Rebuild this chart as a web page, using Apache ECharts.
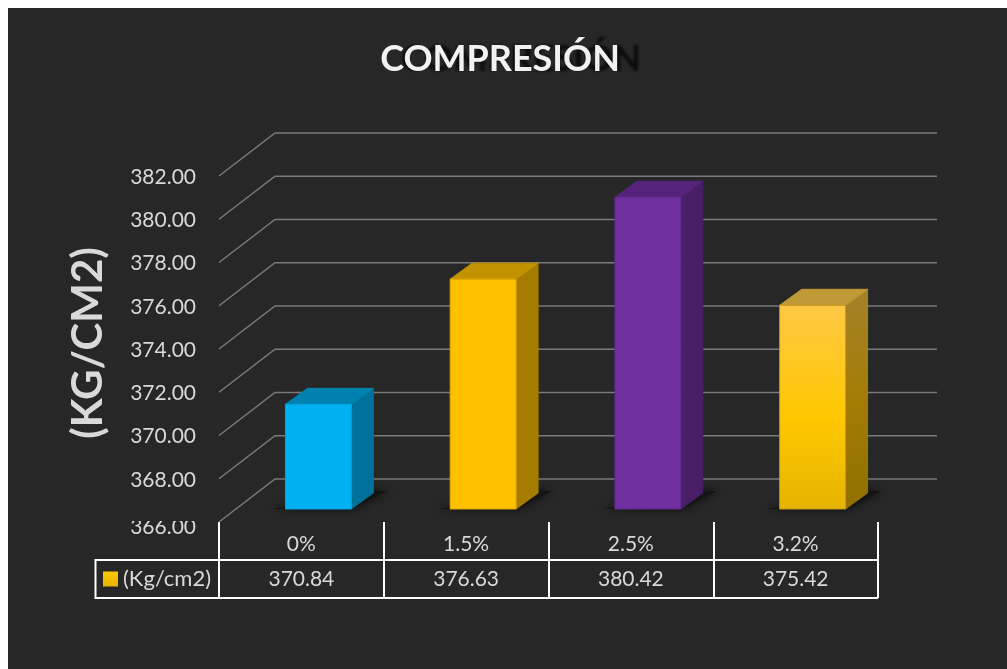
<!DOCTYPE html>
<html><head><meta charset="utf-8">
<style>html,body{margin:0;padding:0;background:#fff}#c{width:1007px;height:669px}</style>
<script src="https://cdn.jsdelivr.net/npm/echarts@6/dist/echarts.min.js"></script>
</head><body><div id="c"></div>
<script>
const categories = ['0%', '1.5%', '2.5%', '3.2%'];
const values = [370.84, 376.63, 380.42, 375.42];
const yTicks = [366, 368, 370, 372, 374, 376, 378, 380, 382];
const seriesName = '(Kg/cm2)';
const titleText = 'COMPRESIÓN';
const yTitle = '(KG/CM2)';

const FONT = 'Lato';
const BG = '#272727';
const TXT = '#d9d9d9';
const WALL = [56, -43];
const BAR_OFF = [17, -13];
const BAR_DEPTH = [22, -16];
const grad = (stops, x2 = 0, y2 = 1) => ({type: 'linear', x: 0, y: 0, x2, y2,
  colorStops: stops.map(([offset, color]) => ({offset, color}))});
const faces = [
  {front: '#00B0F0', side: '#00719B', top: '#0082B0', edge: '#00A3DE'},
  {front: '#FFC000', side: '#A57C00', top: '#C29200', edge: '#E0A900'},
  {front: '#7030A0', side: '#481F67', top: '#55247A', edge: '#632A8E'},
  {front: grad([[0, '#FFC845'], [0.55, '#FFC800'], [1, '#E6B400']]),
   side: grad([[0, '#A5822A'], [0.5, '#A37C05'], [1, '#8F7000']]),
   top: '#C09A36', edge: '#C49A20'}
];

function renderWall(params, api) {
  const v = api.value(0);
  const y = api.coord([0, v])[1];
  const x0 = params.coordSys.x;
  const xb = x0 + WALL[0];
  return {type: 'polyline', silent: true,
    shape: {points: [[x0, y], [xb, y + WALL[1]], [xb + params.coordSys.width + 3, y + WALL[1]]]},
    style: {fill: null, stroke: '#7a7a7a', lineWidth: 1.5}};
}
function renderBar(params, api) {
  const i = api.value(0), f = faces[i];
  const base = api.coord([i, yTicks[0]]), top = api.coord([i, api.value(1)]);
  const w = api.size([1, 0])[0] * 0.4;
  const x = base[0] - w / 2 + BAR_OFF[0], xr = x + w;
  const yb = base[1] + BAR_OFF[1], yt = top[1] + BAR_OFF[1];
  const [dx, dy] = BAR_DEPTH;
  const poly = (points, fill, stroke) => ({type: 'polygon', shape: {points},
    style: {fill, stroke: stroke || fill, lineWidth: 1}});
  const shadow = {type: 'polygon',
    shape: {points: [[x - 12, yb], [xr, yb], [xr + dx + 14, yb + dy - 2], [xr + dx - 8, yb + dy - 2]]},
    style: {fill: '#141414', shadowBlur: 8, shadowColor: '#0a0a0a'}};
  return {type: 'group', children: [
    shadow,
    poly([[xr, yb], [xr + dx, yb + dy], [xr + dx, yt + dy], [xr, yt]], f.side),
    poly([[x, yt], [x + dx, yt + dy], [xr + dx, yt + dy], [xr, yt]], f.top),
    poly([[x, yt], [xr, yt], [xr, yb], [x, yb]], f.front, f.edge)
  ]};
}
const tableLine = (x1, y1, x2, y2) => ({type: 'line', z: 50, silent: true,
  shape: {x1, y1, x2, y2}, style: {stroke: '#fff', lineWidth: 2}});

const chart = echarts.init(document.getElementById('c'), null, {renderer: 'canvas'});
chart.setOption({
  animation: false,
  backgroundColor: '#fff',
  textStyle: {fontFamily: FONT},
  title: {text: titleText, left: 495, textAlign: 'center', top: 36,
    textStyle: {fontFamily: FONT, fontSize: 36, fontWeight: 'bold', color: '#f2f2f2',
      textShadowColor: 'rgba(0,0,0,0.75)', textShadowBlur: 3, textShadowOffsetX: 21, textShadowOffsetY: 0}},
  legend: {left: 103, top: 568, padding: 0, itemWidth: 15, itemHeight: 15, itemGap: 4,
    data: [{name: seriesName, icon: 'rect', itemStyle: {color: grad([[0, '#FFC800'], [1, '#E6B400']])}}],
    textStyle: {color: TXT, fontSize: 22, fontFamily: FONT}},
  grid: {left: 219, right: 129, top: 176, bottom: 147, containLabel: false},
  xAxis: {type: 'category', data: categories, boundaryGap: true,
    axisLine: {show: false},
    axisTick: {show: true, length: 76, lineStyle: {color: '#fff', width: 2}},
    axisLabel: {margin: 5, interval: 0, color: TXT, fontSize: 21, fontFamily: FONT, lineHeight: 35,
      formatter: (name, i) => name + '\n' + values[i].toFixed(2)}},
  yAxis: {type: 'value', min: 366, max: 382, interval: 2,
    axisLine: {show: false}, axisTick: {show: false}, splitLine: {show: false},
    axisLabel: {margin: 23, color: TXT, fontSize: 21, fontFamily: FONT, padding: [2, 0, 0, 0],
      formatter: v => v === yTicks[0] ? '{low|' + v.toFixed(2) + '}' : v.toFixed(2),
      rich: {low: {color: TXT, fontSize: 21, fontFamily: FONT, padding: [8, 0, 0, 0]}}},
    name: yTitle, nameLocation: 'middle', nameRotate: 90, nameGap: 110,
    nameTextStyle: {color: '#d9d9d9', fontSize: 42, fontWeight: 'bold', fontFamily: FONT, padding: [0, 0, 0, 12]}},
  graphic: [
    {type: 'rect', z: -10, silent: true, shape: {x: 8, y: 8, width: 999, height: 661}, style: {fill: BG}},
    {type: 'rect', z: 60, silent: true, shape: {x: 120, y: 505, width: 85, height: 16}, style: {fill: BG}},
    tableLine(95, 560, 878, 560),
    tableLine(95, 598, 878, 598),
    tableLine(95.5, 559, 95.5, 599)
  ],
  series: [
    {type: 'custom', name: 'wall', coordinateSystem: 'cartesian2d', z: 1, silent: true,
     data: yTicks.map(v => [v]), encode: {y: 0}, renderItem: renderWall},
    {type: 'custom', name: seriesName, coordinateSystem: 'cartesian2d', z: 2, silent: true,
     data: values.map((v, i) => [i, v]), encode: {x: 0, y: 1}, renderItem: renderBar}
  ]
});
</script></body></html>
